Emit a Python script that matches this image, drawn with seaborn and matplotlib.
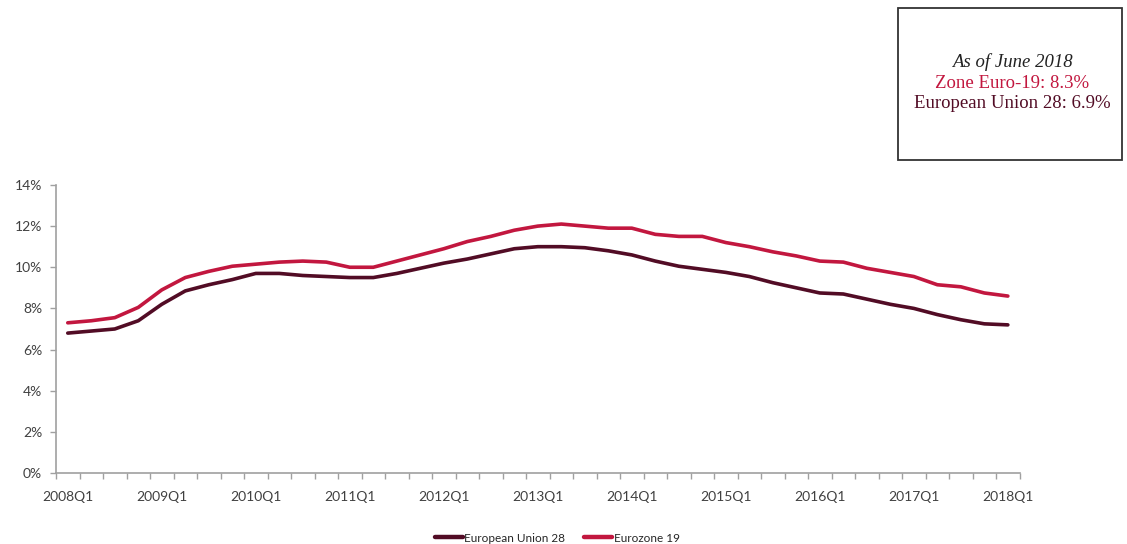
import matplotlib
matplotlib.use("Agg")
import matplotlib.pyplot as plt
import pandas as pd
import numpy as np
import seaborn as sns

quarters = ["%dQ%d" % (y, q) for y in range(2008, 2019) for q in range(1, 5)][:41]

eu28 = [6.8, 6.9, 7.0, 7.4, 8.2, 8.85, 9.15, 9.4, 9.7, 9.7, 9.6, 9.55, 9.5, 9.5,
        9.7, 9.95, 10.2, 10.4, 10.65, 10.9, 11.0, 11.0, 10.95, 10.8, 10.6, 10.3,
        10.05, 9.9, 9.75, 9.55, 9.25, 9.0, 8.75, 8.7, 8.45, 8.2, 8.0, 7.7, 7.45,
        7.25, 7.2]
ez19 = [7.3, 7.4, 7.55, 8.05, 8.9, 9.5, 9.8, 10.05, 10.15, 10.25, 10.3, 10.25,
        10.0, 10.0, 10.3, 10.6, 10.9, 11.25, 11.5, 11.8, 12.0, 12.1, 12.0, 11.9,
        11.9, 11.6, 11.5, 11.5, 11.2, 11.0, 10.75, 10.55, 10.3, 10.25, 9.95, 9.75,
        9.55, 9.15, 9.05, 8.75, 8.6]

series_names = ["European Union 28", "Eurozone 19"]
colors = ["#520c25", "#c2173f"]

df = pd.DataFrame({
    "idx": list(range(len(quarters))) * 2,
    "rate": eu28 + ez19,
    "series": [series_names[0]] * len(eu28) + [series_names[1]] * len(ez19),
})

sns.set_style("white")
plt.rcParams["font.family"] = ["Lato", "DejaVu Sans"]

fig = plt.figure(figsize=(11.27, 5.44), dpi=100)
ax = fig.add_axes([0.0497, 0.1305, 0.855, 0.5295])

sns.lineplot(data=df, x="idx", y="rate", hue="series", palette=colors,
             hue_order=series_names, linewidth=2.6, ax=ax)

ax.set_xlim(-0.5, len(quarters) - 0.5)
ax.set_ylim(0, 14)
ax.set_xlabel("")
ax.set_ylabel("")

ax.set_yticks(np.arange(0, 15, 2))
ax.set_yticklabels(["%d%%" % v for v in range(0, 15, 2)])
ax.set_xticks(range(0, len(quarters), 4))
ax.set_xticklabels(quarters[::4])
ax.set_xticks(np.arange(-0.5, len(quarters), 1), minor=True)
ax.tick_params(axis="x", which="major", length=0, pad=13, labelsize=10, labelcolor="#404040")
ax.tick_params(axis="x", which="minor", length=4, width=1, color="#a0a0a0", direction="out", bottom=True)
ax.tick_params(axis="y", length=4, width=1, color="#a0a0a0", direction="out", left=True,
               labelsize=10, labelcolor="#404040", pad=6)

sns.despine(ax=ax)
for s in ["left", "bottom"]:
    ax.spines[s].set_color("#a0a0a0")
    ax.spines[s].set_linewidth(1.2)

leg = ax.legend(loc="upper center", bbox_to_anchor=(0.52, -0.17), ncol=2, frameon=False,
                fontsize=8.5, handlelength=2.4, handletextpad=0.1, columnspacing=1.6)
for line in leg.get_lines():
    line.set_linewidth(3.2)

# note box in the top right corner
fig.patches.append(plt.Rectangle((898 / 1127, 1 - 160 / 544), 224 / 1127, 152 / 544,
                                 transform=fig.transFigure, fill=False,
                                 edgecolor="#333333", linewidth=1.3))
serif = ["Liberation Serif", "DejaVu Serif"]
fig.text(1012 / 1127, 1 - 62 / 544, "As of June 2018", ha="center", va="center",
         fontsize=13.5, style="italic", family=serif, color="#222222")
fig.text(1012 / 1127, 1 - 83 / 544, "Zone Euro-19: 8.3%", ha="center", va="center",
         fontsize=13.5, family=serif, color=colors[1])
fig.text(1012 / 1127, 1 - 104 / 544, "European Union 28: 6.9%", ha="center", va="center",
         fontsize=13.5, family=serif, color=colors[0])

fig.savefig("out.png", dpi=100)
